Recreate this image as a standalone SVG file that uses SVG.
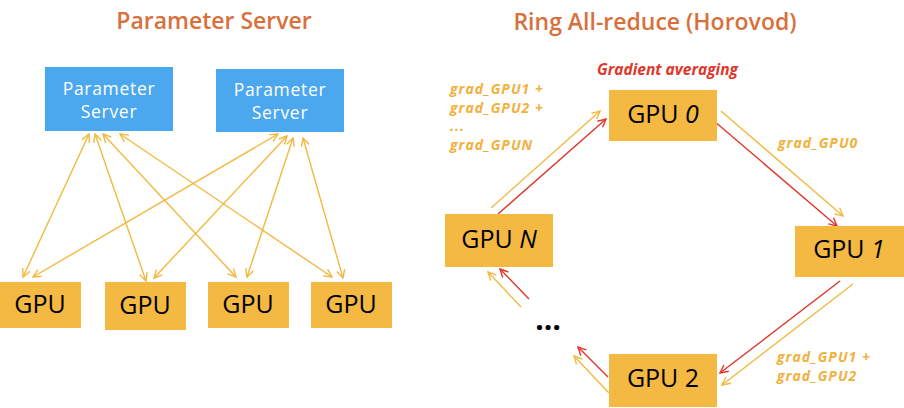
<svg xmlns="http://www.w3.org/2000/svg" width="904" height="408" viewBox="0 0 904 408">
<style>
.title{font-family:"Open Sans","Noto Sans",sans-serif;font-size:23px;font-weight:600;fill:#D9703C;text-anchor:middle}
.ps{fill:#4BA7EE}
.pst{font-family:"Open Sans","Noto Sans",sans-serif;font-size:17.5px;letter-spacing:0.7px;fill:#FFFFFF;text-anchor:middle}
.gpu{fill:#F4B942}
.gt{font-family:"Open Sans","Noto Sans",sans-serif;font-size:25px;fill:#000000;text-anchor:middle}
.lab{font-family:"Open Sans","Noto Sans",sans-serif;font-size:14px;letter-spacing:1px;font-weight:bold;font-style:italic;fill:#F2B03C}
.red{font-family:"Open Sans","Noto Sans",sans-serif;font-size:15.5px;font-weight:bold;font-style:italic;fill:#E0362C}
.y{stroke:#F2B940;stroke-width:1.4;fill:none}
.r{stroke:#E0362C;stroke-width:1.4;fill:none}
</style>
<defs>
<marker id="ay" viewBox="0 0 10 10" refX="9" refY="5" markerWidth="10" markerHeight="10" markerUnits="userSpaceOnUse" orient="auto-start-reverse">
<path d="M1,1 L9,5 L1,9" fill="none" stroke="#F2B940" stroke-width="1.4"/>
</marker>
<marker id="ar" viewBox="0 0 10 10" refX="9" refY="5" markerWidth="10" markerHeight="10" markerUnits="userSpaceOnUse" orient="auto-start-reverse">
<path d="M1,1 L9,5 L1,9" fill="none" stroke="#E0362C" stroke-width="1.4"/>
</marker>
</defs>
<rect width="904" height="408" fill="#FFFFFF"/>
<text class="title" x="214" y="29">Parameter Server</text>
<text class="title" x="655" y="30">Ring All-reduce (Horovod)</text>

<g id="connectors">
<line class="y" x1="89" y1="134" x2="23" y2="277" marker-start="url(#ay)" marker-end="url(#ay)"/>
<line class="y" x1="95" y1="134" x2="146" y2="281" marker-start="url(#ay)" marker-end="url(#ay)"/>
<line class="y" x1="103" y1="134" x2="236" y2="277" marker-start="url(#ay)" marker-end="url(#ay)"/>
<line class="y" x1="120" y1="134" x2="332" y2="277" marker-start="url(#ay)" marker-end="url(#ay)"/>
<line class="y" x1="278" y1="134" x2="33" y2="277" marker-start="url(#ay)" marker-end="url(#ay)"/>
<line class="y" x1="287" y1="136" x2="154" y2="278" marker-start="url(#ay)" marker-end="url(#ay)"/>
<line class="y" x1="293" y1="138" x2="247" y2="277" marker-start="url(#ay)" marker-end="url(#ay)"/>
<line class="y" x1="303" y1="138" x2="343" y2="278" marker-start="url(#ay)" marker-end="url(#ay)"/>

<line class="y" x1="491" y1="208" x2="600" y2="111" marker-end="url(#ay)"/>
<line class="r" x1="498" y1="214" x2="606" y2="119" marker-end="url(#ar)"/>
<line class="y" x1="721" y1="111" x2="843" y2="216" marker-end="url(#ay)"/>
<line class="r" x1="714" y1="121" x2="837" y2="226" marker-end="url(#ar)"/>
<line class="r" x1="840" y1="281" x2="720" y2="373" marker-end="url(#ar)"/>
<line class="y" x1="853" y1="284" x2="722" y2="385" marker-end="url(#ay)"/>
<line class="r" x1="608" y1="377" x2="578" y2="347" marker-end="url(#ar)"/>
<line class="y" x1="609" y1="393" x2="574" y2="356" marker-end="url(#ay)"/>
<line class="r" x1="529" y1="299" x2="500" y2="269" marker-end="url(#ar)"/>
<line class="y" x1="521" y1="307" x2="488" y2="272" marker-end="url(#ay)"/>
</g>

<g id="ps1"><rect class="ps" x="45" y="67" width="128" height="64"/>
<text class="pst" x="109" y="95">Parameter</text><text class="pst" x="109" y="118">Server</text></g>
<g id="ps2"><rect class="ps" x="216" y="69" width="128" height="63"/>
<text class="pst" x="280" y="96">Parameter</text><text class="pst" x="280" y="119">Server</text></g>

<g id="gpu_a"><rect class="gpu" x="0" y="282" width="81" height="46"/><text class="gt" x="40" y="313">GPU</text></g>
<g id="gpu_b"><rect class="gpu" x="105" y="282" width="81" height="48"/><text class="gt" x="145" y="314">GPU</text></g>
<g id="gpu_c"><rect class="gpu" x="208" y="282" width="81" height="46"/><text class="gt" x="248" y="313">GPU</text></g>
<g id="gpu_d"><rect class="gpu" x="311" y="282" width="81" height="46"/><text class="gt" x="351" y="313">GPU</text></g>

<g id="gpu0"><rect class="gpu" x="609" y="90" width="108" height="51"/>
<text class="gt" x="663" y="123">GPU <tspan font-style="italic">0</tspan></text></g>
<g id="gpuN"><rect class="gpu" x="445" y="214" width="108" height="53"/>
<text class="gt" x="499" y="248">GPU <tspan font-style="italic">N</tspan></text></g>
<g id="gpu1"><rect class="gpu" x="795" y="226" width="109" height="51"/>
<text class="gt" x="849" y="258">GPU <tspan font-style="italic">1</tspan></text></g>
<g id="gpu2"><rect class="gpu" x="609" y="354" width="108" height="53"/>
<text class="gt" x="663" y="387">GPU 2</text></g>

<g id="labels">
<text class="red" x="597" y="75">Gradient averaging</text>
<text class="lab" x="450" y="94">grad_GPU1 +</text>
<text class="lab" x="450" y="113">grad_GPU2 +</text>
<text class="lab" x="450" y="131">...</text>
<text class="lab" x="450" y="150">grad_GPUN</text>
<text class="lab" x="778" y="148">grad_GPU0</text>
<text class="lab" x="777" y="362">grad_GPU1 +</text>
<text class="lab" x="777" y="381">grad_GPU2</text>
<text x="548" y="330" font-family="Open Sans, sans-serif" font-size="30" font-weight="bold" text-anchor="middle" fill="#000000">…</text>
</g>
</svg>
